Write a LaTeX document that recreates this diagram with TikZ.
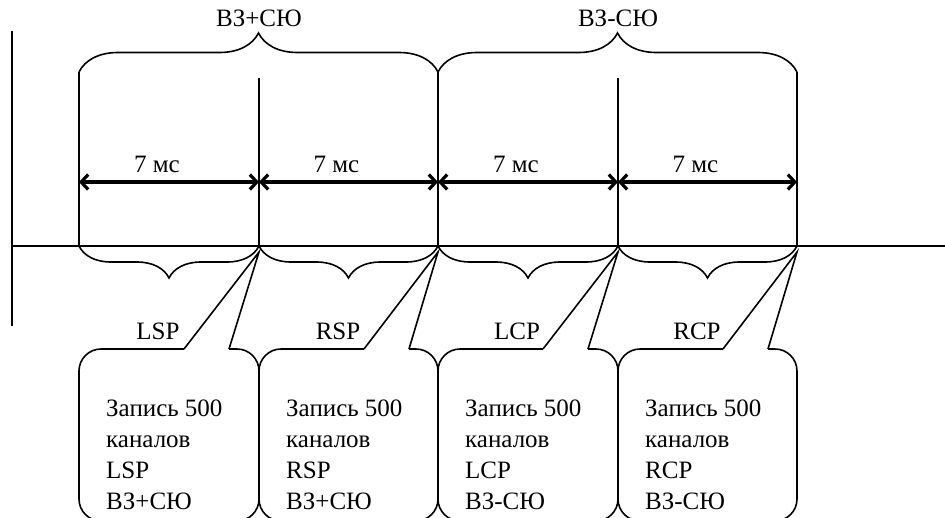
\documentclass[tikz,border=0pt]{standalone}
\usepackage{fontspec}
\setmainfont{Liberation Serif}
\usetikzlibrary{arrows.meta,decorations.pathreplacing}

\begin{document}
\begin{tikzpicture}[
    x=1pt, y=-1pt,
    thinline/.style={draw, line width=1.6pt},
    topbrace/.style={draw, line width=1.6pt, decorate,
        decoration={brace, amplitude=39pt}},
    bottombrace/.style={draw, line width=1.6pt, decorate,
        decoration={brace, mirror, amplitude=32pt}},
    interval/.style={draw, line width=3.2pt,
        {Straight Barb[length=7pt,width=15pt]}-{Straight Barb[length=7pt,width=15pt]}},
    callout/.style={draw, line width=1.6pt, rounded corners=22pt},
    caption/.style={font=\fontsize{25}{31}\selectfont, inner sep=0pt},
    record/.style={caption, align=left, anchor=west}
]
\useasboundingbox (0,0) rectangle (945,517);
\clip (0,0) rectangle (945,517);

% axes
\coordinate (AxisTop) at (12,31);
\coordinate (AxisBottom) at (12,326);
\coordinate (AxisLeft) at (12,246);
\coordinate (AxisRight) at (945,246);
\draw[thinline] (AxisTop) -- (AxisBottom);
\draw[thinline] (AxisLeft) -- (AxisRight);

% column edges
\draw[thinline] (79,72) -- (79,246);
\draw[thinline] (259,78) -- (259,246);
\draw[thinline] (438,72) -- (438,246);
\draw[thinline] (618,78) -- (618,246);
\draw[thinline] (797,72) -- (797,246);

% modes
\draw[topbrace] (79,72) -- (438,72);
\draw[topbrace] (438,72) -- (797,72);
\node (ModeSum) [caption] at (259,18) {ВЗ+СЮ};
\node (ModeDiff) [caption] at (618,18) {ВЗ-СЮ};

\foreach \xl/\xr/\name/\mode [count=\i] in
    {79/259/LSP/ВЗ+СЮ, 259/438/RSP/ВЗ+СЮ, 438/618/LCP/ВЗ-СЮ, 618/797/RCP/ВЗ-СЮ}
{
  % interval
  \draw[interval] (\xl,182) -- (\xr,182);
  \node (Dur\i) [caption] at ({(\xl+\xr)/2-12},164) {7 мс};
  \draw[bottombrace] (\xl,246) -- (\xr,246);
  % callout
  \coordinate (Tip\i) at (\xr,252);
  \draw[callout] (\xl+105,349) -- (\xl,349) -- (\xl,521) -- (\xr,521)
    -- (\xr,349) -- (\xl+150,349);
  \draw[thinline] (\xl+105,349) -- (Tip\i) -- (\xl+150,349);
  \node (Tag\i) [caption] at (\xl+79,331) {\name};
  \node (Rec\i) [record] at (\xl+27,455) {Запись 500\\каналов\\\name\\\mode};
}
\end{tikzpicture}
\end{document}
